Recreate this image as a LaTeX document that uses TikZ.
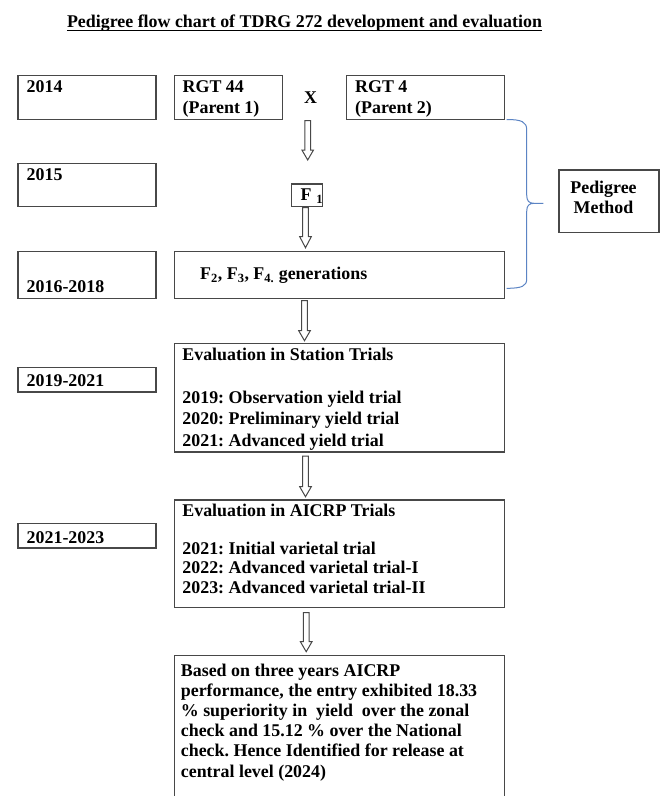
\documentclass[tikz,border=0pt]{standalone}
\usepackage{fontspec}
\setmainfont{Liberation Serif}
\usetikzlibrary{calc}
\definecolor{boxgray}{HTML}{484848}
\definecolor{bracecol}{HTML}{5B84C4}
\newcommand\blockarrow[3][10]{%
  \draw[harrow] ($(#2)+(-2.8,0)$) -- ($(#3)+(-2.8,-#1)$) -- ($(#3)+(-5.8,-#1)$) -- (#3)
    -- ($(#3)+(5.8,-#1)$) -- ($(#3)+(2.8,-#1)$) -- ($(#2)+(2.8,0)$) -- cycle;}
\begin{document}
\frenchspacing
\begin{tikzpicture}[x=1pt,y=-1pt,
  box/.style={draw=boxgray, line width=1.2pt, inner sep=0pt, anchor=north west},
  txt/.style={inner sep=0pt, anchor=base west, font=\bfseries\fontsize{17.9}{21.5}\selectfont},
  ctxt/.style={txt, anchor=base},
  harrow/.style={draw=boxgray, line width=1pt, fill=white, line join=miter},
  brace/.style={draw=bracecol, line width=1pt}]
\useasboundingbox[fill=white] (0,0) rectangle (660,796);

% title
\node[ctxt] (title) at (304.5,27) {Pedigree flow chart of TDRG 272 development and evaluation};
\draw[line width=1pt] ($(title.base west)+(0,3.8)$) -- ($(title.base east)+(0,3.8)$);

% boxes
\node[box, minimum width=138pt, minimum height=44.5pt] (b2014) at (17.3,74.7) {};
\node[box, minimum width=107.8pt, minimum height=44.5pt] (bP1) at (174.2,74.7) {};
\node[box, minimum width=158pt, minimum height=44.5pt] (bP2) at (346,74.7) {};
\node[box, minimum width=138pt, minimum height=43.3pt] (b2015) at (17.3,162.7) {};
\node[box, minimum width=31pt, minimum height=22.4pt] (bF1) at (290.7,183.3) {};
\node[box, minimum width=138pt, minimum height=47pt] (b2016) at (17.3,250.7) {};
\node[box, minimum width=330pt, minimum height=47pt] (bF2) at (174,250.7) {};
\node[box, minimum width=100pt, minimum height=62.4pt] (bPM) at (558.3,169.3) {};
\node[box, minimum width=138pt, minimum height=24.3pt] (b2019) at (17.3,367) {};
\node[box, minimum width=330pt, minimum height=108.6pt] (bST) at (174,342.7) {};
\node[box, minimum width=138pt, minimum height=24.3pt] (b2021) at (17.3,523) {};
\node[box, minimum width=330pt, minimum height=107.4pt] (bAI) at (174,499.3) {};
\node[box, minimum width=330pt, minimum height=170pt] (bFin) at (174,655) {};

% texts
\node[txt] (t2014) at (26.5,92.7) {2014};
\node[txt] (tP1a) at (182.5,92.7) {RGT 44};
\node[txt] (tP1b) at (182.5,113.5) {(Parent 1)};
\node[ctxt] (tX) at (310.5,103.5) {X};
\node[txt] (tP2a) at (355,92.7) {RGT 4};
\node[txt] (tP2b) at (355,113.5) {(Parent 2)};
\node[txt] (t2015) at (26.5,180) {2015};
\node[txt] (tF1) at (300.3,200.5) {F\hspace{5pt}\textsubscript{1}};
\node[txt] (tF2) at (200,279.5) {F\textsubscript{2}, F\textsubscript{3}, F\textsubscript{4.} generations};
\node[txt] (t2016) at (26.5,292.3) {2016-2018};
\node[ctxt] (tPMa) at (603.5,193.3) {Pedigree};
\node[ctxt] (tPMb) at (603.5,213.5) {Method};
\node[txt] (t2019) at (26.5,386.7) {2019-2021};
\node[txt] (tST0) at (182.2,360) {Evaluation in Station Trials};
\node[txt] (tST1) at (182.2,403) {2019: Observation yield trial};
\node[txt] (tST2) at (182.2,424.5) {2020: Preliminary yield trial};
\node[txt] (tST3) at (182.2,446) {2021: Advanced yield trial};
\node[txt] (t2021) at (26.5,543.3) {2021-2023};
\node[txt] (tAI0) at (182.2,516) {Evaluation in AICRP Trials};
\node[txt] (tAI1) at (182.2,554) {2021: Initial varietal trial};
\node[txt] (tAI2) at (182.2,573.5) {2022: Advanced varietal trial-I};
\node[txt] (tAI3) at (182.2,593) {2023: Advanced varietal trial-II};
\node[txt] (tFin1) at (180.7,676.7) {Based on three years AICRP};
\node[txt] (tFin2) at (180.7,696.7) {performance, the entry exhibited 18.33};
\node[txt] (tFin3) at (180.7,716.7) {\% superiority in\ \ yield\ \ over the zonal};
\node[txt] (tFin4) at (180.7,736.7) {check and 15.12 \% over the National};
\node[txt] (tFin5) at (180.7,756.7) {check. Hence Identified for release at};
\node[txt] (tFin6) at (180.7,777) {central level (2024)};

% hollow arrows
\coordinate (a1s) at (307.7,120.5); \coordinate (a1e) at (307.7,160);
\coordinate (a2s) at (305.5,207.7); \coordinate (a2e) at (305.5,247.7);
\coordinate (a3s) at (304.5,300.5); \coordinate (a3e) at (304.5,340.7);
\coordinate (a4s) at (305.5,456); \coordinate (a4e) at (305.5,496.7);
\coordinate (a5s) at (306.2,612.7); \coordinate (a5e) at (306.2,651.7);
\blockarrow{a1s}{a1e}
\blockarrow[11]{a2s}{a2e}
\blockarrow{a3s}{a3e}
\blockarrow{a4s}{a4e}
\blockarrow{a5s}{a5e}

% brace
\coordinate (brT) at (506.7,119.5);
\coordinate (brM) at (543.3,203.3);
\coordinate (brB) at (506.7,288.3);
\draw[brace] (brT) .. controls (522,119.5) and (526.7,122) .. (526.7,130)
  -- (526.7,195) .. controls (526.7,201) and (529,203.3) .. (534,203.3) -- (brM)
  -- (534,203.3) .. controls (529,203.3) and (526.7,205.6) .. (526.7,211.6)
  -- (526.7,279) .. controls (526.7,286) and (522,288.3) .. (brB);
\end{tikzpicture}
\end{document}
